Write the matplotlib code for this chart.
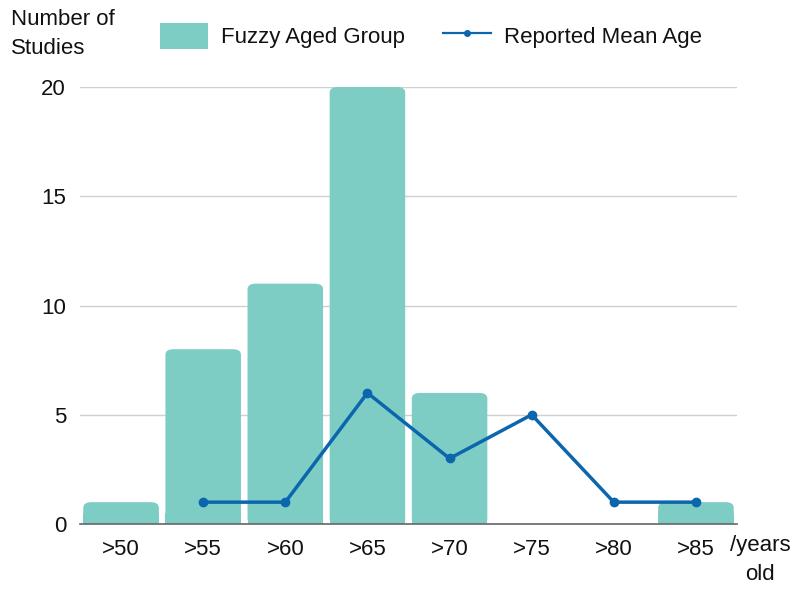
import matplotlib
matplotlib.use("Agg")
import matplotlib.pyplot as plt
from matplotlib.patches import FancyBboxPatch
from matplotlib.lines import Line2D
import numpy as np

# data
categories = [">50", ">55", ">60", ">65", ">70", ">75", ">80", ">85"]
fuzzy_counts = [1, 8, 11, 20, 6, 0, 0, 1]
mean_age_cats = [">55", ">60", ">65", ">70", ">75", ">80", ">85"]
mean_age_counts = [1, 1, 6, 3, 5, 1, 1]

bar_color = "#7ECDC5"
line_color = "#0B66AE"
txt_color = "#111111"
fs = 16

plt.rcParams["font.family"] = ["Liberation Sans", "DejaVu Sans"]

fig = plt.figure(figsize=(7.95, 5.89), dpi=100)
ax = fig.add_axes([80 / 795, 1 - 524 / 589, 657 / 795, 437 / 589])

x = np.arange(len(categories))
width = 0.92
for xi, h in zip(x, fuzzy_counts):
    if h <= 0:
        continue
    # rounded-top bar: rounded patch plus a square patch covering bottom corners
    ax.add_patch(FancyBboxPatch((xi - width / 2, 0), width, h,
                                boxstyle="round,pad=0,rounding_size=0.1",
                                mutation_aspect=2.5,
                                facecolor=bar_color, edgecolor="none", zorder=2))
    ax.add_patch(plt.Rectangle((xi - width / 2, 0), width, min(h, 0.5),
                               facecolor=bar_color, edgecolor="none", zorder=2))

lx = [categories.index(c) for c in mean_age_cats]
ax.plot(lx, mean_age_counts, color=line_color, lw=2.5, marker="o", ms=6, zorder=4)

ax.set_xlim(-0.5, len(categories) - 0.5)
ax.set_ylim(0, 20)
ax.set_yticks([0, 5, 10, 15, 20])
ax.set_xticks(x)
ax.set_xticklabels(categories)
ax.tick_params(axis="both", length=0, labelsize=fs, colors=txt_color)
ax.tick_params(axis="x", pad=11)
ax.tick_params(axis="y", pad=10)
ax.grid(axis="y", color="#d0d0d0", lw=1, zorder=0)
ax.set_axisbelow(True)
for s in ["left", "right", "top"]:
    ax.spines[s].set_visible(False)
ax.spines["bottom"].set_color("#666666")
ax.spines["bottom"].set_linewidth(1.2)
ax.spines["bottom"].set_zorder(3)

fig.text(11 / 795, 1 - 34 / 589, "Number of\nStudies", fontsize=fs, va="center",
         ha="left", linespacing=1.45, color=txt_color)
fig.text(760 / 795, 1 - 560 / 589, "/years\nold", fontsize=fs, va="center",
         ha="center", multialignment="center", linespacing=1.55, color=txt_color)

handles = [
    FancyBboxPatch((0, 0), 1, 1, boxstyle="round,pad=0,rounding_size=0.3",
                   facecolor=bar_color, edgecolor="none"),
    Line2D([], [], color=line_color, lw=1.6, marker="o", ms=4),
]
leg = fig.legend(handles, ["Fuzzy Aged Group", "Reported Mean Age"],
                 loc="center left", bbox_to_anchor=(140 / 795, 1 - 36 / 589),
                 ncol=2, frameon=False, fontsize=fs, handlelength=2.15,
                 handleheight=1.4, handletextpad=0.6, columnspacing=1.7)
for t in leg.get_texts():
    t.set_color(txt_color)

fig.savefig("out.png", dpi=100)
